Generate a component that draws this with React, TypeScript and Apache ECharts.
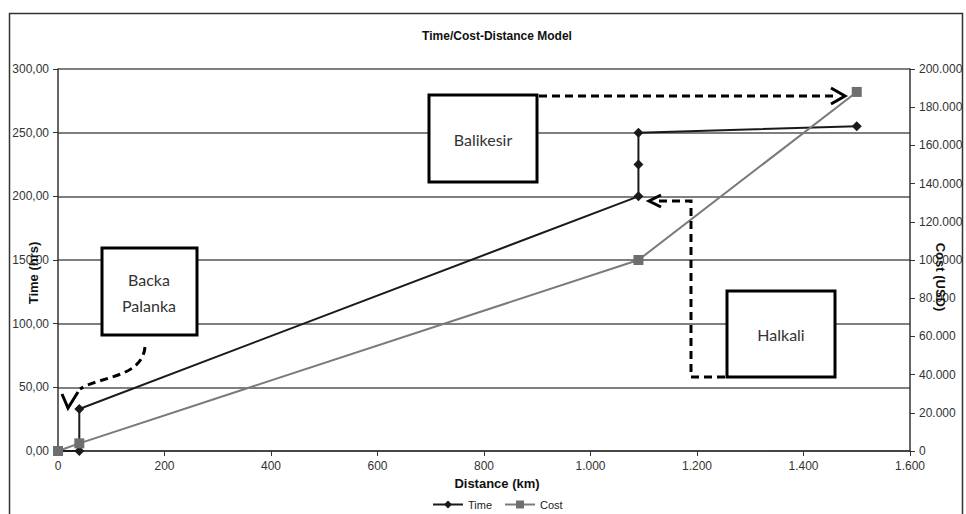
import React, { useEffect, useRef } from "react";
import * as echarts from "echarts";

const chartTitle = "Time/Cost-Distance Model";
const xAxisName = "Distance (km)";
const leftAxisName = "Time (hrs)";
const rightAxisName = "Cost (USD)";
const seriesNames = ["Time", "Cost"];

const timeDistanceKm = [0, 40, 40, 1090, 1090, 1090, 1500];
const timeHours = [0, 0, 33, 200, 225, 250, 255];
const costDistanceKm = [0, 40, 1090, 1500];
const costUSD = [0, 4000, 100000, 188000];

const xTickLabels = ["0", "200", "400", "600", "800", "1.000", "1.200", "1.400", "1.600"];
const leftTickLabels = ["0,00", "50,00", "100,00", "150,00", "200,00", "250,00", "300,00"];
const rightTickLabels = ["0", "20.000", "40.000", "60.000", "80.000", "100.000", "120.000", "140.000", "160.000", "180.000", "200.000"];

const annotationLabels = ["Balikesir", "Backa\nPalanka", "Halkali"];

const FONT = '"Liberation Sans", Arial, sans-serif';
const BOX_FONT = 'Lato, "Open Sans", sans-serif';

function txt(text: string, x: number, y: number, font: string, fill: string, rotation = 0) {
  return {
    type: "text",
    x,
    y,
    rotation,
    silent: true,
    z: 50,
    style: {
      text,
      x: 0,
      y: 0,
      font,
      fill,
      align: "center",
      verticalAlign: "middle",
      textAlign: "center",
      textVerticalAlign: "middle",
      lineHeight: 26,
    },
  };
}

function box(x: number, y: number, w: number, h: number) {
  return {
    type: "rect",
    silent: true,
    z: 40,
    shape: { x, y, width: w, height: h },
    style: { fill: "#ffffff", stroke: "#000000", lineWidth: 3 },
  };
}

function dashed(points: number[][]) {
  return {
    type: "polyline",
    silent: true,
    z: 45,
    shape: { points },
    style: { fill: null, stroke: "#000000", lineWidth: 3, lineDash: [8, 5] },
  };
}

function solid(points: number[][]) {
  return {
    type: "polyline",
    silent: true,
    z: 45,
    shape: { points },
    style: { fill: null, stroke: "#000000", lineWidth: 3, lineJoin: "miter" },
  };
}

export default function App() {
  const ref = useRef<HTMLDivElement>(null);

  useEffect(() => {
    if (!ref.current) return;
    const chart = echarts.init(ref.current, undefined, { renderer: "svg" });

    const timeData = timeDistanceKm.map((d, i) => [d, timeHours[i]]);
    const costData = costDistanceKm.map((d, i) => [d, costUSD[i]]);

    const option: any = {
      animation: false,
      backgroundColor: "#ffffff",
      grid: { left: 58, right: 56, top: 69, bottom: 63, containLabel: false },
      legend: {
        data: seriesNames,
        left: 427,
        top: 494,
        itemWidth: 30,
        itemHeight: 10,
        itemGap: 12,
        textStyle: { fontFamily: FONT, fontSize: 11, color: "#222" },
      },
      xAxis: {
        type: "value",
        min: 0,
        max: 1600,
        interval: 200,
        axisLine: { show: true, lineStyle: { color: "#333", width: 1.5 } },
        axisTick: { show: true, length: 5, lineStyle: { color: "#333" } },
        splitLine: { show: false },
        axisLabel: {
          margin: 9,
          fontFamily: FONT,
          fontSize: 12,
          color: "#333",
          formatter: (v: number) => xTickLabels[Math.round(v / 200)] ?? "",
        },
      },
      yAxis: [
        {
          type: "value",
          position: "left",
          min: 0,
          max: 300,
          interval: 50,
          axisLine: { show: true, onZero: false, lineStyle: { color: "#333", width: 1.5 } },
          axisTick: { show: true, length: 5, lineStyle: { color: "#333" } },
          splitLine: { show: true, lineStyle: { color: "#555", width: 1.5 } },
          axisLabel: {
            margin: 9,
            fontFamily: FONT,
            fontSize: 12,
            color: "#333",
            formatter: (v: number) => leftTickLabels[Math.round(v / 50)] ?? "",
          },
        },
        {
          type: "value",
          position: "right",
          min: 0,
          max: 200000,
          interval: 20000,
          axisLine: { show: true, onZero: false, lineStyle: { color: "#333", width: 1.5 } },
          axisTick: { show: true, length: 5, lineStyle: { color: "#333" } },
          splitLine: { show: false },
          axisLabel: {
            margin: 9,
            fontFamily: FONT,
            fontSize: 12,
            color: "#333",
            formatter: (v: number) => rightTickLabels[Math.round(v / 20000)] ?? "",
          },
        },
      ],
      series: [
        {
          name: seriesNames[0],
          type: "line",
          yAxisIndex: 0,
          data: timeData,
          symbol: "diamond",
          symbolSize: 10,
          showAllSymbol: true,
          itemStyle: { color: "#1a1a1a" },
          lineStyle: { color: "#1a1a1a", width: 2 },
          z: 3,
        },
        {
          name: seriesNames[1],
          type: "line",
          yAxisIndex: 1,
          data: costData,
          symbol: "rect",
          symbolSize: 10,
          showAllSymbol: true,
          itemStyle: { color: "#6e6e6e" },
          lineStyle: { color: "#7a7a7a", width: 2 },
          z: 4,
        },
      ],
      graphic: [
        {
          type: "rect",
          silent: true,
          z: 60,
          shape: { x: 9.5, y: 13.5, width: 953, height: 520 },
          style: { fill: null, stroke: "#333", lineWidth: 1.5 },
        },
        txt(chartTitle, 497, 36, `bold 12px ${FONT}`, "#111"),
        txt(xAxisName, 497, 483, `bold 13px ${FONT}`, "#111"),
        txt(leftAxisName, 33, 273, `bold 13px ${FONT}`, "#111", Math.PI / 2),
        txt(rightAxisName, 940, 277, `bold 13px ${FONT}`, "#111", -Math.PI / 2),
        // Balikesir
        box(429, 95, 108, 87),
        txt(annotationLabels[0], 483, 139, `16px ${BOX_FONT}`, "#333"),
        dashed([[539, 96], [838, 96]]),
        solid([[831, 88], [845, 96], [831, 104]]),
        // Backa Palanka
        box(102, 248, 95, 87),
        txt(annotationLabels[1], 149, 292, `16px ${BOX_FONT}`, "#333"),
        {
          type: "bezierCurve",
          silent: true,
          z: 45,
          shape: { x1: 145, y1: 347, cpx1: 142, cpy1: 378, cpx2: 100, cpy2: 376, x2: 80, y2: 389 },
          style: { fill: null, stroke: "#000", lineWidth: 3, lineDash: [8, 5] },
        },
        solid([[62, 394], [68, 408], [78, 392]]),
        // Halkali
        box(727, 291, 108, 86),
        txt(annotationLabels[2], 781, 334, `16px ${BOX_FONT}`, "#333"),
        dashed([[725, 377], [691, 377], [691, 201], [658, 201]]),
        solid([[661, 195], [649, 201], [661, 207]]),
      ],
    };

    chart.setOption(option);
    return () => chart.dispose();
  }, []);

  return (
    <div
      ref={ref}
      style={{ position: "absolute", left: 0, top: 0, width: 966, height: 514, background: "#fff" }}
    />
  );
}
